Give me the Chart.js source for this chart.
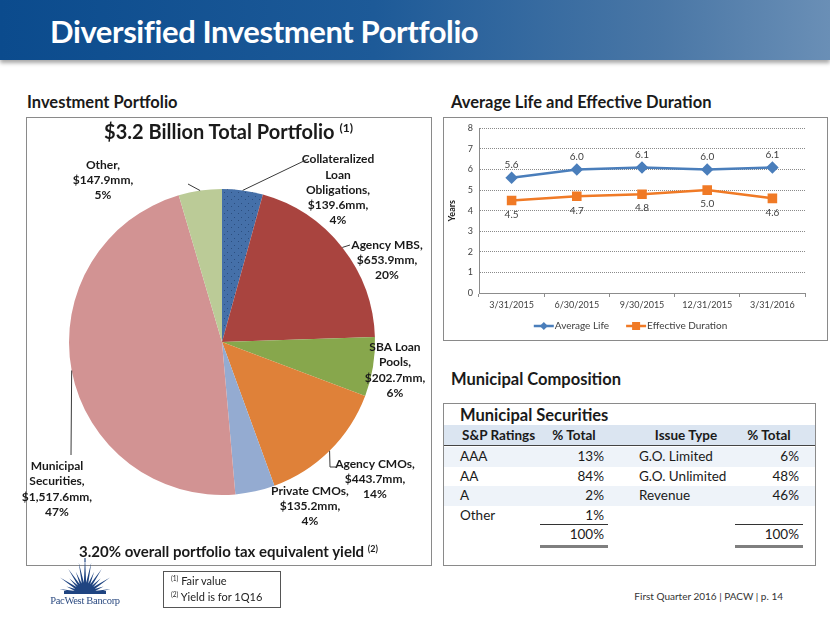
<!DOCTYPE html>
<html>
<head>
<meta charset="utf-8">
<script src="https://cdn.jsdelivr.net/npm/chart.js@4.4.0/dist/chart.umd.min.js"></script>
<style>
  body { margin: 0; width: 830px; height: 623px; position: relative; overflow: hidden; background: #fff; font-family: Lato, "Open Sans", sans-serif; color: #1a1a1a; }
  .abs { position: absolute; }
  .head { left: 0; top: 0; width: 830px; height: 60px; background: linear-gradient(90deg, #0b4b8d 0%, #1d5a98 45%, #4a77a6 80%, #6a8fb6 100%); box-shadow: 0 3px 4px rgba(0,0,0,0.35); }
  .head span { position: absolute; left: 50px; top: 12px; font-size: 31px; font-weight: bold; color: #fff; letter-spacing: -0.4px; }
  .sect { font-size: 16.5px; font-weight: bold; }
  .box { border: 1px solid #8a8a8a; box-sizing: border-box; }
  sup { font-size: 60%; vertical-align: 0.6em; line-height: 0; }
  .cell { position: absolute; font-size: 13.5px; line-height: 19px; white-space: nowrap; }
</style>
</head>
<body>
<div class="abs head"><span>Diversified Investment Portfolio</span></div>

<div class="abs sect" style="left:27px;top:92px;">Investment Portfolio</div>
<div class="abs sect" style="left:451px;top:92px;">Average Life and Effective Duration</div>
<div class="abs sect" style="left:451px;top:369px;">Municipal Composition</div>

<div class="abs box" style="left:26px;top:117px;width:406px;height:449px;"></div>
<div class="abs" style="left:16px;top:117px;width:415px;height:448px;"><canvas id="pie" width="415" height="448"></canvas></div>
<div class="abs" style="left:26px;top:119px;width:405px;text-align:center;font-size:20px;font-weight:bold;">$3.2 Billion Total Portfolio <sup>(1)</sup></div>
<div class="abs" style="left:26px;top:542px;width:405px;text-align:center;font-size:15px;font-weight:bold;">3.20% overall portfolio tax equivalent yield <sup>(2)</sup></div>

<div class="abs box" style="left:443px;top:117px;width:385px;height:224px;"></div>
<div class="abs" style="left:443px;top:117px;width:384px;height:223px;"><canvas id="line" width="384" height="223"></canvas></div>

<div class="abs box" id="tbl" style="left:443px;top:403px;width:373px;height:163px;"></div>

<svg class="abs" id="logo" style="left:40px;top:558px;" width="95" height="50"></svg>
<div class="abs" style="left:30px;top:595px;width:110px;text-align:center;font-family:'Liberation Serif',serif;font-size:10.5px;color:#2b4a80;letter-spacing:-0.3px;">PacWest Bancorp</div>

<div class="abs box" style="left:163px;top:571px;width:118px;height:37px;border-color:#555;"></div>
<div class="abs" style="left:171px;top:573px;font-size:11px;line-height:16px;color:#222;"><sup>(1)</sup> Fair value<br><sup>(2)</sup> Yield is for 1Q16</div>
<div class="abs" style="left:560px;top:590px;width:223px;text-align:right;font-size:10px;color:#333;">First Quarter 2016 | PACW | p. 14</div>

<script>
// portfolio pie
const pieNames = ['Collateralized Loan Obligations', 'Agency MBS', 'SBA Loan Pools', 'Agency CMOs', 'Private CMOs', 'Municipal Securities', 'Other'];
const pieValues = [139.6, 653.9, 202.7, 443.7, 135.2, 1517.6, 147.9];
const piePercents = [4, 20, 6, 14, 4, 47, 5];

// average life / duration
const quarters = ['3/31/2015', '6/30/2015', '9/30/2015', '12/31/2015', '3/31/2016'];
const averageLife = [5.6, 6.0, 6.1, 6.0, 6.1];
const effectiveDuration = [4.5, 4.7, 4.8, 5.0, 4.6];
const yearTicks = [0, 1, 2, 3, 4, 5, 6, 7, 8];

// municipal table
const ratings = ['AAA', 'AA', 'A', 'Other'];
const ratingPct = [13, 84, 2, 1];
const issueTypes = ['G.O. Limited', 'G.O. Unlimited', 'Revenue'];
const issuePct = [6, 48, 46];

// label layout (offsets from pie centre)
const labelLines = [['Collateralized', 'Loan', 'Obligations,'], ['Agency MBS,'], ['SBA Loan', 'Pools,'], ['Agency CMOs,'], ['Private CMOs,'], ['Municipal', 'Securities,'], ['Other,']];
const labelPlace = [
  { dx: 116, dy: -152, leader: [[86, -183]] },
  { dx: 165, dy: -82, leader: [[128, -97]] },
  { dx: 173, dy: 28 },
  { dx: 153, dy: 137, leader: [[108, 125], [115, 125]] },
  { dx: 88, dy: 164 },
  { dx: -165, dy: 147, leader: [[-151, 113]] },
  { dx: -119, dy: -162, leader: [[-34, -158]] }
];

function fmt(v) {
  return v.toLocaleString('en-US', { minimumFractionDigits: 1, maximumFractionDigits: 1 });
}

function dotPattern(base) {
  const c = document.createElement('canvas');
  c.width = 7; c.height = 7;
  const g = c.getContext('2d');
  g.fillStyle = base; g.fillRect(0, 0, 7, 7);
  g.fillStyle = '#2c4f80';
  g.fillRect(1, 2, 1, 1); g.fillRect(5, 5, 1, 1);
  return g.createPattern(c, 'repeat');
}

const pieLabelPlugin = {
  id: 'pieLabels',
  afterDatasetsDraw(chart) {
    const ctx = chart.ctx;
    const arcs = chart.getDatasetMeta(0).data;
    ctx.save();
    ctx.font = 'bold 12px Lato';
    ctx.fillStyle = '#1a1a1a';
    ctx.textAlign = 'center';
    ctx.textBaseline = 'middle';
    ctx.strokeStyle = '#3a3a3a';
    ctx.lineWidth = 1;
    arcs.forEach((arc, i) => {
      const p = labelPlace[i];
      const lines = labelLines[i].concat(['$' + fmt(pieValues[i]) + 'mm,', piePercents[i] + '%']);
      const lh = 15.3;
      lines.forEach((t, k) => {
        ctx.fillText(t, arc.x + p.dx, arc.y + p.dy + (k - (lines.length - 1) / 2) * lh);
      });
      if (p.leader) {
        const mid = (arc.startAngle + arc.endAngle) / 2;
        ctx.beginPath();
        ctx.moveTo(arc.x + Math.cos(mid) * arc.outerRadius, arc.y + Math.sin(mid) * arc.outerRadius);
        p.leader.forEach(([lx, ly]) => ctx.lineTo(arc.x + lx, arc.y + ly));
        ctx.stroke();
      }
    });
    ctx.restore();
  }
};

new Chart(document.getElementById('pie'), {
  type: 'pie',
  data: {
    labels: pieNames,
    datasets: [{
      data: pieValues,
      backgroundColor: [dotPattern('#4570a9'), '#a9443f', '#87a74c', '#df8139', '#94abd1', '#d29393', '#bbcb97'],
      borderWidth: 0,
      hoverOffset: 0
    }]
  },
  options: {
    responsive: false,
    animation: false,
    events: [],
    layout: { padding: { left: 53, right: 56, top: 72, bottom: 70 } },
    plugins: { legend: { display: false }, tooltip: { enabled: false } }
  },
  plugins: [pieLabelPlugin]
});

const lineDecor = {
  id: 'lineDecor',
  afterDatasetsDraw(chart) {
    const ctx = chart.ctx;
    ctx.save();
    ctx.font = '10px Lato';
    ctx.fillStyle = '#404040';
    ctx.textAlign = 'center';
    ctx.textBaseline = 'middle';
    chart.data.datasets.forEach((ds, di) => {
      chart.getDatasetMeta(di).data.forEach((pt, j) => {
        ctx.fillText(ds.data[j].toFixed(1), pt.x, pt.y + (di === 0 ? -13 : 14));
      });
    });
    // legend
    const y = 209;
    ctx.textAlign = 'left';
    const items = chart.data.datasets.map(ds => ({ ds, w: 22 + ctx.measureText(ds.label).width }));
    const gap = 16;
    const total = items.reduce((a, b) => a + b.w, 0) + gap;
    let x = chart.width / 2 - total / 2 - 4;
    items.forEach(({ ds, w }) => {
      ctx.strokeStyle = ds.borderColor;
      ctx.lineWidth = 2.5;
      ctx.beginPath(); ctx.moveTo(x, y); ctx.lineTo(x + 20, y); ctx.stroke();
      ctx.fillStyle = ds.borderColor;
      if (ds.pointStyle === 'rect') {
        ctx.fillRect(x + 6, y - 4, 8, 8);
      } else {
        ctx.beginPath(); ctx.moveTo(x + 10, y - 4); ctx.lineTo(x + 14, y); ctx.lineTo(x + 10, y + 4); ctx.lineTo(x + 6, y); ctx.fill();
      }
      ctx.fillStyle = '#404040';
      ctx.fillText(ds.label, x + 21, y);
      x += w + gap;
    });
    ctx.restore();
  }
};

new Chart(document.getElementById('line'), {
  type: 'line',
  data: {
    labels: quarters,
    datasets: [
      { label: 'Average Life', data: averageLife, borderColor: '#4a7ebb', backgroundColor: '#4a7ebb', borderWidth: 2.5, pointStyle: 'rectRot', pointRadius: 4.5, tension: 0 },
      { label: 'Effective Duration', data: effectiveDuration, borderColor: '#f07a26', backgroundColor: '#f07a26', borderWidth: 2.5, pointStyle: 'rect', pointRadius: 5, tension: 0 }
    ]
  },
  options: {
    responsive: false,
    animation: false,
    events: [],
    layout: { padding: { left: 4, right: 22, top: 11, bottom: 27 } },
    plugins: { legend: { display: false }, tooltip: { enabled: false } },
    scales: {
      x: {
        offset: true,
        afterFit: s => { s.height = 20; },
        grid: { offset: true, drawOnChartArea: false, tickLength: 4, color: '#8c8c8c' },
        border: { color: '#8c8c8c' },
        ticks: { color: '#404040', font: { family: 'Lato', size: 9 }, padding: 3, maxRotation: 0 }
      },
      y: {
        min: 0, max: 8,
        afterFit: s => { s.width = 32; },
        afterBuildTicks: s => { s.ticks = yearTicks.map(v => ({ value: v })); },
        title: { display: true, text: 'Years', color: '#1a1a1a', font: { family: 'Lato', size: 9, weight: 'bold' }, padding: 0 },
        grid: { color: '#8a8a8a', drawTicks: false },
        border: { color: '#8c8c8c', dash: [1, 1] },
        ticks: { color: '#404040', font: { family: 'Lato', size: 9 }, padding: 6 }
      }
    }
  },
  plugins: [{
    id: 'yAxisLine',
    afterDatasetsDraw(chart) {
      const a = chart.chartArea, ctx = chart.ctx;
      ctx.save();
      ctx.strokeStyle = '#8c8c8c';
      ctx.lineWidth = 1;
      ctx.beginPath(); ctx.moveTo(a.left + 0.5, a.top); ctx.lineTo(a.left + 0.5, a.bottom); ctx.stroke();
      ctx.restore();
    }
  }, lineDecor]
});

// municipal table
(function () {
  const tbl = document.getElementById('tbl');
  function add(html, style) {
    const d = document.createElement('div');
    d.className = 'cell';
    d.innerHTML = html;
    Object.assign(d.style, style);
    tbl.appendChild(d);
  }
  add('', { left: '0', top: '21px', width: '371px', height: '20px', background: '#dbe5f1', borderBottom: '1.5px solid #444' });
  [0, 2].forEach(r => add('', { left: '0', top: (43 + r * 19.5) + 'px', width: '371px', height: '19.5px', background: '#eef3f9' }));
  add('Municipal Securities', { left: '16px', top: '1px', fontSize: '16.5px', fontWeight: 'bold', lineHeight: '20px' });
  add('S&amp;P Ratings', { left: '18px', top: '22px', fontWeight: 'bold' });
  add('% Total', { left: '90px', width: '80px', top: '22px', fontWeight: 'bold', textAlign: 'center' });
  add('Issue Type', { left: '190px', width: '104px', top: '22px', fontWeight: 'bold', textAlign: 'center' });
  add('% Total', { left: '285px', width: '80px', top: '22px', fontWeight: 'bold', textAlign: 'center' });
  const rowTop = r => (43 + r * 19.5) + 'px';
  ratings.forEach((name, r) => {
    add(name, { left: '16px', top: rowTop(r) });
    add(ratingPct[r] + '%', { left: '100px', width: '60px', textAlign: 'right', top: rowTop(r) });
  });
  issueTypes.forEach((name, r) => {
    add(name, { left: '195px', top: rowTop(r) });
    add(issuePct[r] + '%', { left: '295px', width: '60px', textAlign: 'right', top: rowTop(r) });
  });
  const sumR = ratingPct.reduce((a, b) => a + b, 0);
  const sumI = issuePct.reduce((a, b) => a + b, 0);
  add(sumR + '%', { left: '100px', width: '60px', textAlign: 'right', top: rowTop(4) });
  add(sumI + '%', { left: '295px', width: '60px', textAlign: 'right', top: rowTop(4) });
  [[96, 68], [291, 68]].forEach(([l, w]) => {
    add('', { left: l + 'px', top: '120px', width: w + 'px', height: '1px', background: '#333' });
    add('', { left: l + 'px', top: '141px', width: w + 'px', height: '3px', background: '#7f7f7f' });
  });
})();

// logo starburst
(function () {
  const svg = document.getElementById('logo');
  const cx = 45, cy = 36;
  const lens = [26, 20, 30, 22, 30, 24, 32, 38, 32, 24, 30, 22, 30, 20, 26];
  let d = '';
  lens.forEach((L, k) => {
    const a = Math.PI * 1.03 + (k + 0.5) * Math.PI * 0.94 / lens.length;
    const w = 0.16;
    const x1 = cx + Math.cos(a - w) * 8, y1 = cy + Math.sin(a - w) * 8;
    const x2 = cx + Math.cos(a) * L, y2 = cy + Math.sin(a) * L;
    const x3 = cx + Math.cos(a + w) * 8, y3 = cy + Math.sin(a + w) * 8;
    d += `M${cx},${cy} L${x1},${y1} L${x2},${y2} L${x3},${y3} Z `;
  });
  svg.innerHTML = `<path d="${d}" fill="#1f4481"/><rect x="24" y="33" width="42" height="3" fill="#1f4481"/><line x1="45" y1="0" x2="45" y2="4" stroke="#1f4481" stroke-width="1"/>`;
})();
</script>
</body>
</html>
